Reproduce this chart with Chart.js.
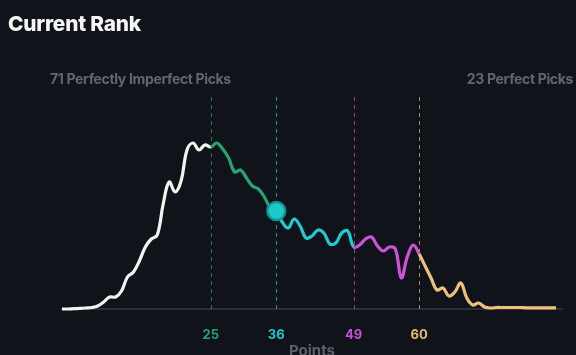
<!DOCTYPE html>
<html>
<head>
<meta charset="utf-8">
<script src="https://cdn.jsdelivr.net/npm/chart.js@4.4.1/dist/chart.umd.min.js"></script>
<style>
  html, body { margin: 0; padding: 0; background: #10131a; }
  #wrap { position: relative; width: 576px; height: 355px; overflow: hidden; background: #10131a; font-family: Inter, "Noto Sans", sans-serif; }
  canvas { position: absolute; left: 0; top: 0; }
  .t { position: absolute; white-space: nowrap; font-weight: 700; line-height: 1; }
  #title { left: 8px; top: 14px; font-size: 20.8px; font-weight: 800; color: #f5f5f5; letter-spacing: -0.2px; }
  #leftLbl { left: 50px; top: 72px; font-size: 14px; color: #62666e; letter-spacing: -0.35px; }
  #rightLbl { right: 3px; top: 72px; font-size: 14px; color: #62666e; letter-spacing: -0.35px; }
  #xTitle { left: 312px; top: 343px; transform: translateX(-50%); font-size: 15px; color: #5c6068; }
</style>
</head>
<body>
<div id="wrap">
  <canvas id="c" width="576" height="355"></canvas>
  <div class="t" id="title">Current Rank</div>
  <div class="t" id="leftLbl">71 Perfectly Imperfect Picks</div>
  <div class="t" id="rightLbl">23 Perfect Picks</div>
  <div class="t" id="xTitle">Points</div>
</div>
<script>
// ---- data ----
const scores = [0,1,2,3,4,5,6,7,8,9,10,11,12,13,14,15,16,17,18,19,20,21,22,23,24,25,26,27,28,29,30,31,32,33,34,35,36,37,38,39,40,41,42,43,44,45,46,47,48,49,50,51,52,53,54,55,56,57,58,59,60,61,62,63,64,65,66,67,68,69,70,71,72,73,74,75,76,77,78,79,80,81,82,83];
const density = [0,0,0.3,0.6,1,1.5,3,7,12,12,18,32,37,48,62,70,74,105,127,117,128,159,166,159,164,162,166,160,151,137,139,131,123,120,112,101,98,87,81,90,83,71,73,79,76,65,66,76,78,62,64,70,72,63,58,62,60,31,52,64,55,43,31,19,21,13,17,26,11,4,6,2,1,1.5,1.5,1.5,1.5,1.5,1.2,1.2,1.2,1.2,1.2,1.2];
const thresholds = [25, 36, 49, 60];
const tickLabels = ['25', '36', '49', '60'];
const bandColors = ['#f3f3ef', '#26a36e', '#20cccf', '#d052d8', '#eec17a'];
const tickColors = ['#27a06d', '#22c6c9', '#c650d2', '#e7b977'];
const dashColors = ['rgba(38,163,110,0.7)', 'rgba(32,204,207,0.7)', 'rgba(208,82,216,0.7)', 'rgba(238,193,122,0.7)'];
const markerScore = 36;
const markerValue = 98;

function bandIndex(x) {
  let i = 0;
  while (i < thresholds.length && x >= thresholds[i]) i++;
  return i;
}

const lineData = scores.map((s, i) => ({ x: s, y: density[i] }));

const dashPlugin = {
  id: 'dashes',
  beforeDatasetsDraw(chart) {
    const { ctx, chartArea, scales } = chart;
    ctx.save();
    ctx.lineWidth = 1;
    ctx.setLineDash([4, 4]);
    thresholds.forEach((t, i) => {
      const px = Math.round(scales.x.getPixelForValue(t)) + 0.5;
      ctx.strokeStyle = dashColors[i];
      ctx.beginPath();
      ctx.moveTo(px, chartArea.top);
      ctx.lineTo(px, chartArea.bottom);
      ctx.stroke();
    });
    ctx.restore();
  }
};

new Chart(document.getElementById('c'), {
  type: 'line',
  data: {
    datasets: [
      {
        data: [{ x: markerScore, y: markerValue }],
        pointRadius: 9,
        pointBackgroundColor: '#1ccaca',
        pointBorderColor: 'rgba(20,150,150,0.9)',
        pointBorderWidth: 2.5,
        showLine: false,
        order: 0,
        clip: false
      },
      {
        data: lineData,
        borderWidth: 3.2,
        pointRadius: 0,
        tension: 0.4,
        fill: false,
        order: 1,
        clip: false,
        borderColor: bandColors[0],
        segment: {
          borderColor: ctx => bandColors[bandIndex(ctx.p0.parsed.x)]
        }
      }
    ]
  },
  options: {
    responsive: false,
    animation: false,
    devicePixelRatio: 1,
    layout: { padding: { left: 62, right: 14, top: 97, bottom: 12 } },
    plugins: { legend: { display: false }, tooltip: { enabled: false } },
    scales: {
      x: {
        type: 'linear',
        min: 0,
        max: 84,
        grid: { display: false, drawTicks: false },
        border: { display: true, color: '#2a2e35', width: 2 },
        afterBuildTicks: axis => { axis.ticks = thresholds.map(v => ({ value: v })); },
        afterFit: axis => { axis.height = 34; },
        ticks: {
          padding: 18,
          autoSkip: false,
          maxRotation: 0,
          font: { family: 'Inter', size: 13, weight: '700' },
          color: ctx => tickColors[thresholds.indexOf(ctx.tick.value)] || '#888',
          callback: (v) => tickLabels[thresholds.indexOf(v)]
        },
        title: { display: false }
      },
      y: {
        display: false,
        min: 0,
        max: 212
      }
    }
  },
  plugins: [dashPlugin]
});
</script>
</body>
</html>
